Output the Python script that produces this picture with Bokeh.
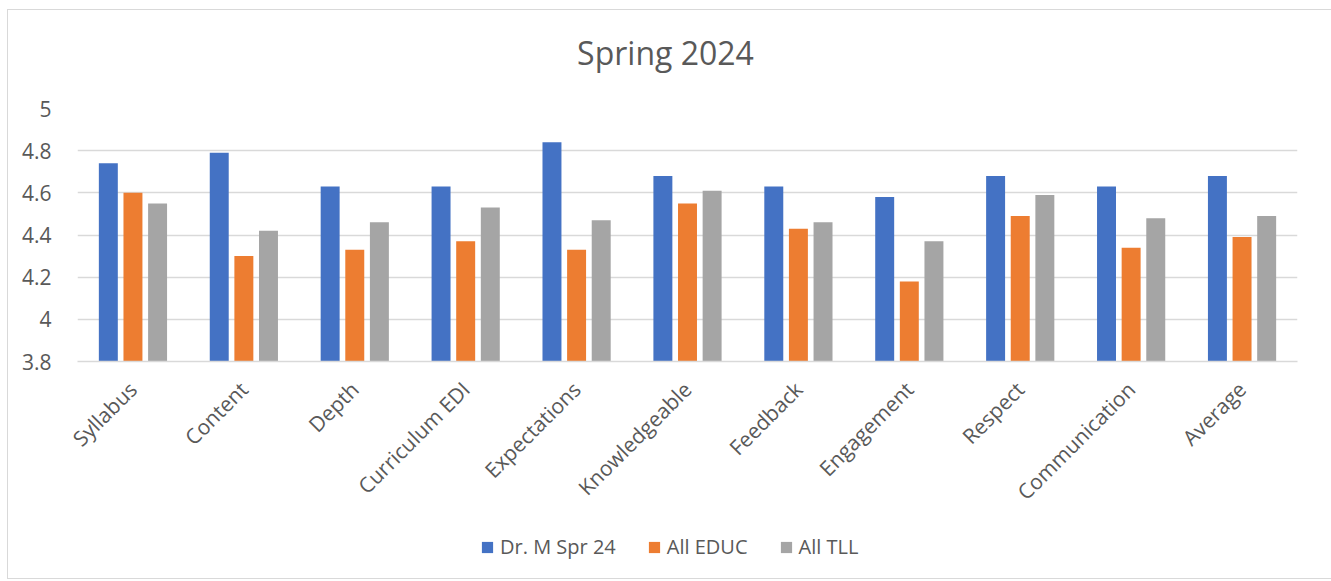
from math import pi
from bokeh.plotting import figure
from bokeh.layouts import column
from bokeh.models import (ColumnDataSource, FactorRange, Range1d, FixedTicker, Legend, LegendItem,
                          CustomJSTickFormatter, Div)
from bokeh.transform import dodge
from bokeh.embed import file_html
from bokeh.resources import INLINE

title = "Spring 2024"
categories = ["Syllabus", "Content", "Depth", "Curriculum EDI", "Expectations", "Knowledgeable",
              "Feedback", "Engagement", "Respect", "Communication", "Average"]
series_names = ["Dr. M Spr 24", "All EDUC", "All TLL"]
dr_m = [4.74, 4.79, 4.63, 4.63, 4.84, 4.68, 4.63, 4.58, 4.68, 4.63, 4.68]
all_educ = [4.60, 4.30, 4.33, 4.37, 4.33, 4.55, 4.43, 4.18, 4.49, 4.34, 4.39]
all_tll = [4.55, 4.42, 4.46, 4.53, 4.47, 4.61, 4.46, 4.37, 4.59, 4.48, 4.49]
y_ticks = [3.8, 4.0, 4.2, 4.4, 4.6, 4.8, 5.0]
colors = ["#4472C4", "#ED7D31", "#A5A5A5"]

FONT = "Open Sans"
TXT = "#595959"
GRID = "#D9D9D9"
W = 1317
H_TITLE = 72
H_MAIN = 426
H_LEG = 60

src = ColumnDataSource(dict(cat=categories, s0=dr_m, s1=all_educ, s2=all_tll))

head = Div(text=title, width=W, height=H_TITLE,
           styles={"font-family": FONT, "font-size": "32px", "color": TXT,
                   "text-align": "center", "padding-top": "15px", "padding-right": "12px",
                   "box-sizing": "border-box", "background-color": "white"})

p = figure(width=W, height=H_MAIN, x_range=FactorRange(*categories, range_padding=0),
           y_range=Range1d(y_ticks[0], y_ticks[-1]),
           output_backend="svg", toolbar_location=None,
           min_border_left=69, min_border_right=28, min_border_top=16, min_border_bottom=157)
p.outline_line_color = None
p.background_fill_color = "white"
p.border_fill_color = "white"

offsets = [-0.222, 0.0, 0.222]
for i, col in enumerate(colors):
    p.vbar(x=dodge("cat", offsets[i], range=p.x_range), top="s%d" % i, bottom=y_ticks[0],
           width=0.171, source=src, fill_color=col, line_color=None)

# axes
p.yaxis.ticker = FixedTicker(ticks=y_ticks)
p.yaxis.formatter = CustomJSTickFormatter(code="return String(Math.round(tick*10)/10);")
p.yaxis.axis_line_color = None
p.yaxis.major_tick_line_color = None
p.yaxis.minor_tick_line_color = None
p.yaxis.major_label_standoff = 20
p.yaxis.major_label_text_font = FONT
p.yaxis.major_label_text_font_size = "21px"
p.yaxis.major_label_text_color = TXT

p.xaxis.axis_line_color = GRID
p.xaxis.axis_line_width = 1.5
p.xaxis.major_tick_line_color = None
p.xaxis.minor_tick_line_color = None
p.xaxis.major_label_orientation = pi / 4
p.xaxis.major_label_standoff = 18
p.xaxis.major_label_text_font = FONT
p.xaxis.major_label_text_font_size = "21px"
p.xaxis.major_label_text_color = TXT

p.xgrid.grid_line_color = None
p.ygrid.grid_line_color = GRID
p.ygrid.grid_line_width = 1.5

# legend strip below the chart (its renderers are hidden; only the legend shows)
pl = figure(width=W, height=H_LEG, x_range=FactorRange(*categories, range_padding=0),
            y_range=Range1d(0, 1),
            x_axis_type=None, y_axis_type=None, output_backend="svg", toolbar_location=None,
            min_border=0)
pl.outline_line_color = None
pl.background_fill_color = "white"
pl.border_fill_color = "white"
leg_renderers = []
for i, col in enumerate(colors):
    r = pl.vbar(x="cat", top="s%d" % i, bottom=y_ticks[0], width=0.171,
                source=src, fill_color=col, line_color=None)
    r.visible = False
    leg_renderers.append(r)

legend = Legend(items=[LegendItem(label=n, renderers=[r]) for n, r in zip(series_names, leg_renderers)],
                orientation="horizontal", location=(403, 18),
                border_line_color=None, background_fill_alpha=0,
                glyph_width=14, glyph_height=14, label_standoff=6, spacing=31,
                padding=0, margin=0, label_text_font=FONT, label_text_font_size="20px",
                label_text_color=TXT, inactive_fill_alpha=0)
pl.add_layout(legend)

layout = column(head, p, pl, spacing=0)
layout.styles = {"border": "1px solid #D9D9D9", "margin-left": "7px", "margin-top": "9px"}

open("out.html", "w").write(file_html(layout, INLINE))
